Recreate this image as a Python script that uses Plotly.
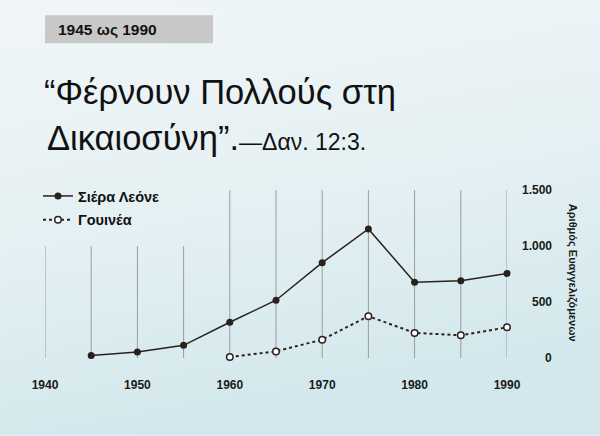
import base64
import plotly.graph_objects as go

# ---- data ----
years = [1945, 1950, 1955, 1960, 1965, 1970, 1975, 1980, 1985, 1990]
sierra_leone = [23, 54, 113, 319, 516, 851, 1152, 677, 690, 755]
guinea_years = [1960, 1965, 1970, 1975, 1980, 1985, 1990]
guinea = [9, 59, 164, 373, 224, 203, 274]
x_ticks = [1940, 1950, 1960, 1970, 1980, 1990]
y_ticks = [0, 500, 1000, 1500]
y_tick_labels = ["0", "500", "1.000", "1.500"]
grid_years = [1940, 1945, 1950, 1955, 1960, 1965, 1970, 1975, 1980, 1985, 1990]
grid_tops = [1000, 1000, 1000, 1000, 1500, 1500, 1500, 1500, 1500, 1500, 1500]

W, H = 600, 436
L, R, T, B = 45, 93, 190, 77.7
PW, PH = W - L - R, H - T - B


def px(xp):
    return (xp - L) / PW


def py(yp):
    return (H - B - yp) / PH


DARK = "#2a211e"
FONT = "Liberation Sans, Arial, sans-serif"

fig = go.Figure()

# vertical grid lines
gx, gy = [], []
for yr, top in zip(grid_years, grid_tops):
    gx += [yr, yr, None]
    gy += [0, top, None]
fig.add_trace(go.Scatter(x=gx, y=gy, mode="lines", line=dict(color="#9c9c9c", width=1),
                         hoverinfo="skip", showlegend=False))

fig.add_trace(go.Scatter(x=years, y=sierra_leone, mode="lines+markers", name="Σιέρα Λεόνε",
                         line=dict(color=DARK, width=1.5),
                         marker=dict(color=DARK, size=7), cliponaxis=False,
                         legendgroup="a"))
fig.add_trace(go.Scatter(x=guinea_years, y=guinea, mode="lines+markers", name="Γουινέα",
                         line=dict(color=DARK, width=2, dash="dot"),
                         marker=dict(color="#ffffff", size=6.5, line=dict(color=DARK, width=1.5)),
                         cliponaxis=False, legendgroup="b"))

svg = ('<svg xmlns="http://www.w3.org/2000/svg" width="600" height="436">'
       '<defs><linearGradient id="g" x1="0" y1="0" x2="0.25" y2="1">'
       '<stop offset="0" stop-color="#f1f6f8"/><stop offset="0.55" stop-color="#e4f0f3"/>'
       '<stop offset="1" stop-color="#d2e8ec"/></linearGradient></defs>'
       '<rect width="600" height="436" fill="url(#g)"/></svg>')
src = "data:image/svg+xml;base64," + base64.b64encode(svg.encode()).decode()

annotations = []
for v, lab in zip(y_ticks, y_tick_labels):
    annotations.append(dict(x=px(554), y=v, xref="paper", yref="y", text=lab, showarrow=False,
                            xanchor="right", yanchor="middle",
                            font=dict(family=FONT, size=12, color="#1a1a1a", weight="bold")))
annotations += [
    dict(x=px(572), y=py(273), xref="paper", yref="paper", text="Αριθμός Ευαγγελιζόμενων",
         textangle=90, showarrow=False, xanchor="center", yanchor="middle",
         font=dict(family=FONT, size=11, color="#1a1a1a", weight="bold")),
    dict(x=px(42), y=py(92), xref="paper", yref="paper", text="“Φέρνουν Πολλούς στη",
         showarrow=False, xanchor="left", yanchor="middle",
         font=dict(family=FONT, size=34.5, color="#111111")),
    dict(x=px(45), y=py(138), xref="paper", yref="paper",
         text='Δικαιοσύνη”.<span style="font-size:23px">—Δαν. 12:3.</span>',
         showarrow=False, xanchor="left", yanchor="middle",
         font=dict(family=FONT, size=34.5, color="#111111")),
    dict(x=px(56), y=py(29), xref="paper", yref="paper", text="1945 ως 1990",
         showarrow=False, xanchor="left", yanchor="middle",
         font=dict(family=FONT, size=15.5, color="#111111", weight="bold")),
]

fig.update_layout(
    width=W, height=H,
    margin=dict(l=L, r=R, t=T, b=B, autoexpand=False),
    paper_bgcolor="#e6f1f4", plot_bgcolor="rgba(0,0,0,0)",
    images=[dict(source=src, xref="paper", yref="paper", x=px(0), y=py(0),
                 sizex=W / PW, sizey=H / PH, sizing="stretch", xanchor="left", yanchor="top",
                 layer="below")],
    shapes=[dict(type="rect", xref="paper", yref="paper", x0=px(45), x1=px(213),
                 y0=py(43), y1=py(15), fillcolor="#c8c8c8", line=dict(width=0), layer="above")],
    annotations=annotations,
    xaxis=dict(range=[1940, 1990], tickvals=x_ticks, ticktext=[str(v) for v in x_ticks],
               showgrid=False, zeroline=False, showline=False, ticks="",
               ticklabelstandoff=18, automargin=False,
               tickfont=dict(family=FONT, size=12, color="#1a1a1a", weight="bold")),
    yaxis=dict(range=[0, 1500], showgrid=False, zeroline=False, showline=False,
               showticklabels=False, ticks="", automargin=False),
    legend=dict(x=38 / W, y=1 - 180 / H, xref="container", yref="container",
                xanchor="left", yanchor="top", bgcolor="rgba(0,0,0,0)",
                font=dict(family=FONT, size=14.5, color="#111111", weight="bold"),
                itemwidth=30, tracegroupgap=2),
    showlegend=True,
)

fig.write_html("out.html", config={"displayModeBar": False},
               post_script="document.body.style.margin='0';")
